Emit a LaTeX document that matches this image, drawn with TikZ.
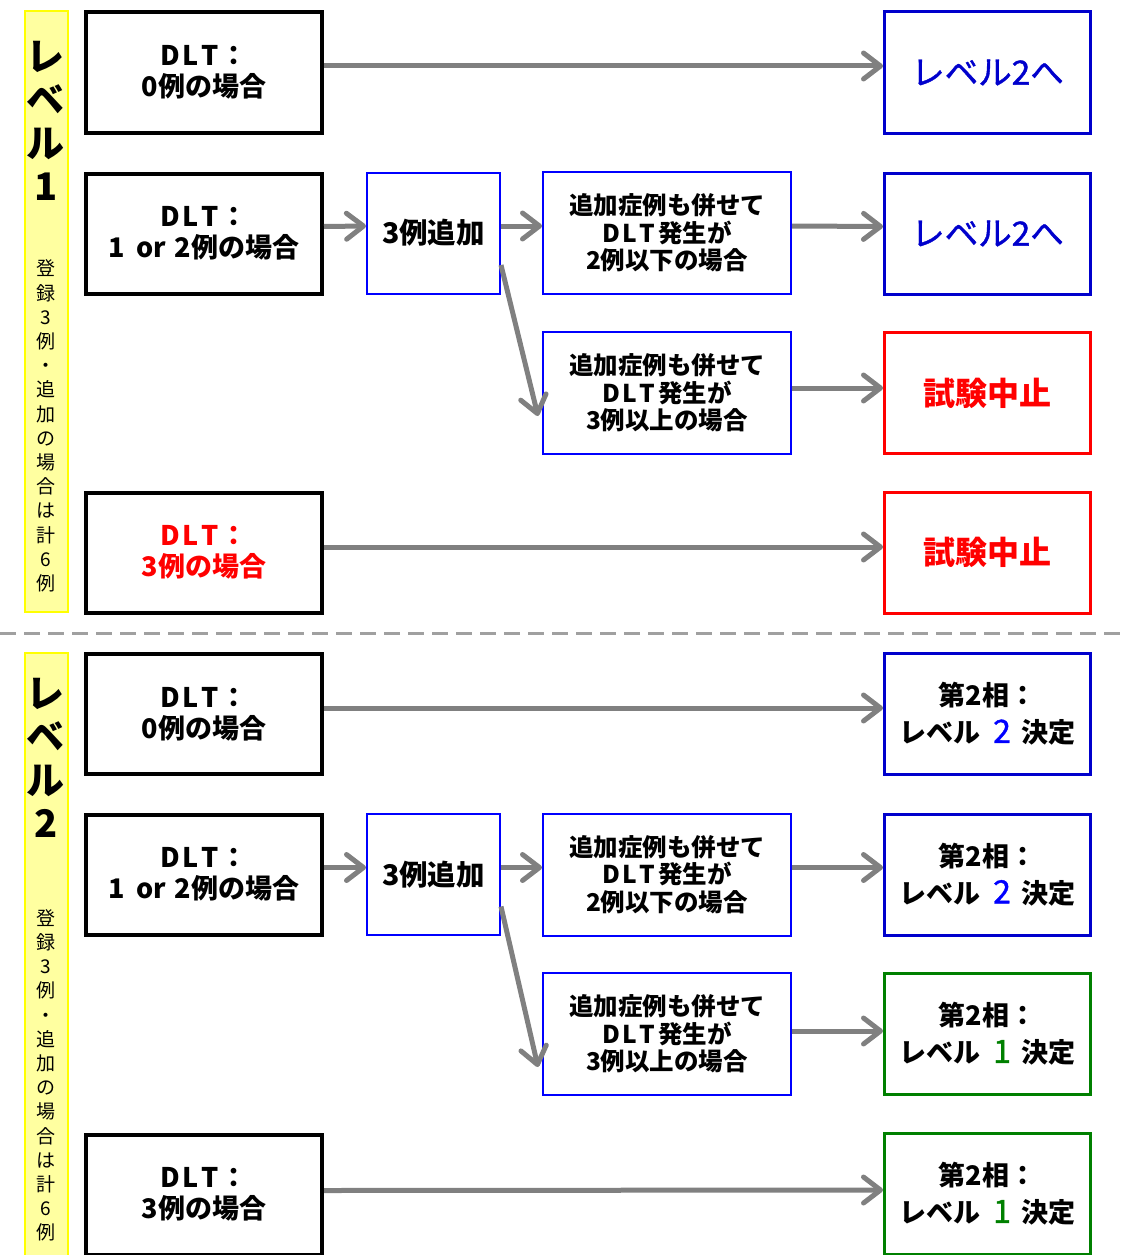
\documentclass[tikz,border=0pt]{standalone}
\usepackage{fontspec}
\setmainfont{Noto Sans CJK JP}
\newfontfamily\jpmed{Noto Sans CJK JP}[FakeBold=1.2]
\usetikzlibrary{arrows.meta}
\definecolor{arrgray}{HTML}{808080}
\definecolor{dashgray}{HTML}{A0A0A0}
\definecolor{darkblue}{HTML}{0000CC}
\definecolor{pureblue}{HTML}{0000FF}
\definecolor{purered}{HTML}{FF0000}
\definecolor{okgreen}{HTML}{008000}
\definecolor{barfill}{HTML}{FFFFA0}
\definecolor{barline}{HTML}{FFFF00}
\newcommand{\dlt}{D\kern2.5pt L\kern2.5pt T\kern2.5pt}
\newcommand{\onetwo}{1\hspace{11pt}or\hspace{9pt}2}
\newcommand{\lvnum}[2]{\hspace{13pt}{\mdseries\jpmed\fontsize{32}{37}\selectfont\color{#1}#2}\hspace{11pt}}
\begin{document}
\begin{tikzpicture}[x=1pt,y=-1pt,
  lbox/.style={draw=black, line width=4pt, minimum width=236pt, minimum height=120pt, align=center, inner sep=0pt,
    font=\fontsize{27}{31}\selectfont\bfseries},
  rbox/.style={line width=3pt, minimum width=206pt, minimum height=121pt, align=center, inner sep=0pt},
  addbox/.style={draw=pureblue, line width=2pt, minimum width=133pt, minimum height=121pt, inner sep=0pt,
    font=\fontsize{28.5}{31}\selectfont\bfseries},
  midbox/.style={draw=pureblue, line width=2pt, minimum width=248pt, minimum height=122pt, align=center, inner sep=0pt,
    font=\fontsize{24.5}{27.5}\selectfont\bfseries},
  gotxt/.style={font=\fontsize{33.5}{36}\selectfont\jpmed, text=darkblue},
  stoptxt/.style={font=\fontsize{32}{36}\selectfont\bfseries, text=purered},
  dectxt/.style={font=\fontsize{27}{37}\selectfont\bfseries},
  arr/.style={draw=arrgray, line width=5pt, -{Straight Barb[length=17pt,width=26pt,round]}},
  bar/.style={draw=barline, fill=barfill, line width=2pt},
  bigv/.style={align=center, inner sep=0pt, font=\fontsize{38}{43.5}\selectfont\bfseries},
  smallv/.style={align=center, inner sep=0pt, font=\fontsize{19}{24.2}\selectfont}
]
\useasboundingbox (0,0) rectangle (1123,1255);

% ---------- Level 1 ----------
\draw[bar] (25,11) rectangle (68,612);
\node[bigv] (l1big) at (46,121) {レ\\ベ\\ル\\1};
\node[smallv] (l1small) at (46,426) {登\\録\\3\\例\\・\\追\\加\\の\\場\\合\\は\\計\\6\\例};

\node[lbox] (a1) at (204,72.5) {\dlt：\\0例の場合};
\node[lbox] (a2) at (204,233.5) {\dlt：\\\onetwo 例の場合};
\node[lbox, text=purered] (a4) at (204,552.5) {\dlt：\\3例の場合};

\node[addbox] (b2) at (433.5,233) {3例追加};
\node[midbox] (m2) at (667,233) {追加症例も併せて\\\dlt 発生が\\2例以下の場合};
\node[midbox] (m3) at (667,393) {追加症例も併せて\\\dlt 発生が\\3例以上の場合};

\node[rbox, draw=darkblue, gotxt] (r1) at (987.5,72.5) {レベル2へ};
\node[rbox, draw=darkblue, gotxt] (r2) at (987.5,233.5) {レベル2へ};
\node[rbox, draw=purered, stoptxt] (r3) at (987.5,393) {試験中止};
\node[rbox, draw=purered, stoptxt] (r4) at (987.5,552.5) {試験中止};

\draw[arr] ([yshift=6.5pt]a1.east) -- ([yshift=6.5pt]r1.west);
\draw[arr] ([yshift=7pt]a2.east) -- ([yshift=7pt]b2.west);
\draw[arr] ([yshift=7pt]b2.east) -- ([yshift=7pt]m2.west);
\draw[arr] ([yshift=7pt]m2.east) -- ([yshift=7pt]r2.west);
\draw[arr] ([yshift=-32pt]b2.east) -- ([yshift=-23pt,xshift=-4pt]m3.west);
\draw[arr] ([yshift=5pt]m3.east) -- ([yshift=5pt]r3.west);
\draw[arr] ([yshift=5.5pt]a4.east) -- ([yshift=5.5pt]r4.west);

% ---------- separator ----------
\coordinate (sepL) at (0,633);
\coordinate (sepR) at (1123,633);
\draw[dashgray, line width=3pt, dash pattern=on 16pt off 8pt] (sepL) -- (sepR);

% ---------- Level 2 ----------
\draw[bar] (25,653) rectangle (68,1258);
\node[bigv] (l2big) at (46,758) {レ\\ベ\\ル\\2};
\node[smallv] (l2small) at (46,1075.5) {登\\録\\3\\例\\・\\追\\加\\の\\場\\合\\は\\計\\6\\例};

\node[lbox] (c1) at (204,714) {\dlt：\\0例の場合};
\node[lbox] (c2) at (204,874.5) {\dlt：\\\onetwo 例の場合};
\node[lbox] (c4) at (204,1194.5) {\dlt：\\3例の場合};

\node[addbox] (d2) at (433.5,874.5) {3例追加};
\node[midbox] (n2) at (667,874.5) {追加症例も併せて\\\dlt 発生が\\2例以下の場合};
\node[midbox] (n3) at (667,1034) {追加症例も併せて\\\dlt 発生が\\3例以上の場合};

\node[rbox, draw=darkblue, dectxt] (s1) at (987.5,714) {第2相：\\レベル\lvnum{pureblue}{2}決定};
\node[rbox, draw=darkblue, dectxt] (s2) at (987.5,874.5) {第2相：\\レベル\lvnum{pureblue}{2}決定};
\node[rbox, draw=okgreen, dectxt] (s3) at (987.5,1034) {第2相：\\レベル\lvnum{okgreen}{1}決定};
\node[rbox, draw=okgreen, dectxt] (s4) at (987.5,1194) {第2相：\\レベル\lvnum{okgreen}{1}決定};

\draw[arr] ([yshift=6pt]c1.east) -- ([yshift=6pt]s1.west);
\draw[arr] ([yshift=7pt]c2.east) -- ([yshift=7pt]d2.west);
\draw[arr] ([yshift=7pt]d2.east) -- ([yshift=7pt]n2.west);
\draw[arr] ([yshift=7pt]n2.east) -- ([yshift=7pt]s2.west);
\draw[arr] ([yshift=-32pt]d2.east) -- ([yshift=-33pt,xshift=-4pt]n3.west);
\draw[arr] ([yshift=3pt]n3.east) -- ([yshift=3pt]s3.west);
\draw[arr] ([yshift=4pt]c4.east) -- ([yshift=4pt]s4.west);
\end{tikzpicture}
\end{document}
